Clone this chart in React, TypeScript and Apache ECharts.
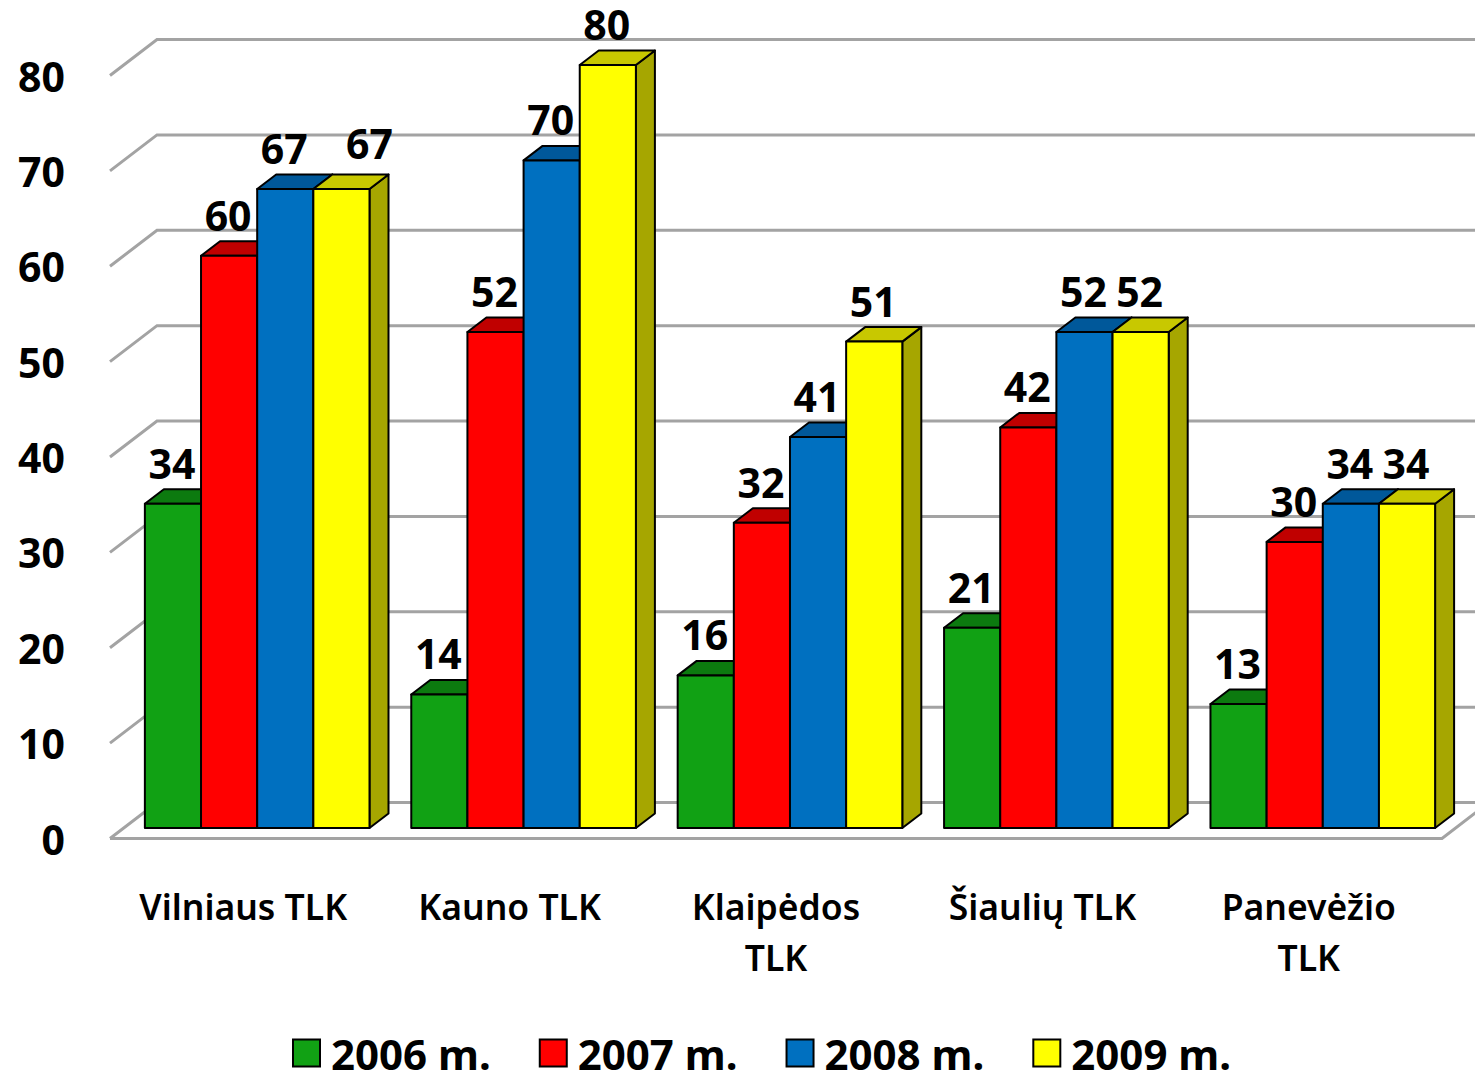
import React, { useEffect, useRef } from "react";
import * as echarts from "echarts";

const categories = ["Vilniaus TLK", "Kauno TLK", "Klaipėdos\nTLK", "Šiaulių TLK", "Panevėžio\nTLK"];
const values2006 = [34, 14, 16, 21, 13];
const values2007 = [60, 52, 32, 42, 30];
const values2008 = [67, 70, 41, 52, 34];
const values2009 = [67, 80, 51, 52, 34];
const yTicks = [0, 10, 20, 30, 40, 50, 60, 70, 80];

const FONT = '"Noto Sans"';
const WALL = "#a3a3a3";

const seriesDefs = [
  { name: "2006 m.", values: values2006, front: "#11a114", top: "#0c7a0f", side: "#0c7a0f", slot: 0 },
  { name: "2007 m.", values: values2007, front: "#ff0000", top: "#c00000", side: "#c00000", slot: 1 },
  { name: "2008 m.", values: values2008, front: "#0070c0", top: "#00589a", side: "#00589a", slot: 2 },
  { name: "2009 m.", values: values2009, front: "#ffff00", top: "#c8c800", side: "#a6a600", slot: 3 },
];

function barRenderer(def: (typeof seriesDefs)[number]) {
  return (params: any, api: any) => {
    const cat = api.value(0);
    const val = api.value(1);
    const band = api.size([1, 0])[0];
    const w = band * 0.2108;
    const floorShiftX = band * 0.0525;
    const floorShiftY = 10.5;
    const dx = 19;
    const dy = 14.5;
    const centre = api.coord([cat, 0])[0];
    const left = centre + floorShiftX - 2 * w + def.slot * w;
    const right = left + w;
    const base = api.coord([cat, 0])[1] - floorShiftY;
    const topY = api.coord([cat, val])[1] - floorShiftY;
    const stroke = { stroke: "#000", lineWidth: 2, lineJoin: "round" };
    // The one label nudged sideways in the original, next to an equal neighbour.
    const nudged = def.slot === 3 && cat === 0;
    return {
      type: "group",
      children: [
        {
          type: "polygon",
          shape: { points: [[right, base], [right + dx, base - dy], [right + dx, topY - dy], [right, topY]] },
          style: { fill: def.side, ...stroke },
        },
        {
          type: "polygon",
          shape: { points: [[left, topY], [left + dx, topY - dy], [right + dx, topY - dy], [right, topY]] },
          style: { fill: def.top, ...stroke },
        },
        {
          type: "rect",
          shape: { x: left, y: topY, width: w, height: base - topY },
          style: { fill: def.front, ...stroke },
        },
        {
          type: "text",
          z2: 100,
          x: left + w / 2 - 1 + (nudged ? 29 : 0),
          y: topY - 41 - (nudged ? 5 : 0),
          style: {
            text: String(val),
            fill: "#000",
            font: `bold 41px ${FONT}`,
            textAlign: "center",
            textVerticalAlign: "middle",
          },
        },
      ],
    };
  };
}

function wallRenderer(params: any, api: any) {
  const tick = api.value(0);
  const y = api.coord([0, tick])[1];
  const g = params.coordSys;
  const x0 = g.x;
  const x1 = g.x + g.width;
  const depthX = 47;
  const depthY = 36;
  const line = { stroke: WALL, lineWidth: 3, fill: "none" };
  const children: any[] = [
    {
      type: "polyline",
      shape: { points: [[x0, y], [x0 + depthX, y - depthY], [x1 + 40, y - depthY]] },
      style: line,
    },
  ];
  if (tick === 0) {
    children.push({
      type: "polyline",
      shape: { points: [[x0, y], [x1, y], [x1 + depthX, y - depthY]] },
      style: line,
    });
  }
  return { type: "group", children };
}

export default function App() {
  const ref = useRef<HTMLDivElement>(null);
  useEffect(() => {
    const chart = echarts.init(ref.current!, undefined, { renderer: "svg" });
    chart.setOption({
      animation: false,
      backgroundColor: "#fff",
      textStyle: { fontFamily: FONT },
      grid: { left: 110, right: 33, top: 75.5, height: 763, containLabel: false },
      xAxis: {
        type: "category",
        data: categories,
        axisLine: { show: false },
        axisTick: { show: false },
        axisLabel: {
          interval: 0,
          margin: 42,
          color: "#000",
          fontFamily: FONT,
          fontWeight: 600,
          fontSize: 35.5,
          lineHeight: 51,
          verticalAlign: "top",
        },
      },
      yAxis: {
        type: "value",
        min: 0,
        max: 80,
        interval: 10,
        axisLine: { show: false },
        axisTick: { show: false },
        splitLine: { show: false },
        axisLabel: { margin: 45, color: "#000", fontFamily: FONT, fontWeight: "bold", fontSize: 41 },
      },
      legend: {
        left: 287,
        top: 1027,
        itemWidth: 27,
        itemHeight: 27,
        itemGap: 48,
        selectedMode: false,
        textStyle: {
          color: "#000",
          fontFamily: FONT,
          fontWeight: "bold",
          fontSize: 42,
          lineHeight: 42,
          padding: [0, 0, 0, 6],
        },
        data: seriesDefs.map((d) => ({
          name: d.name,
          icon: "rect",
          itemStyle: { color: d.front, borderColor: "#000", borderWidth: 2 },
        })),
      },
      series: [
        {
          type: "custom",
          name: "walls",
          silent: true,
          clip: false,
          data: yTicks.map((t) => [t]),
          encode: { y: 0 },
          renderItem: wallRenderer,
        },
        ...seriesDefs.map((d) => ({
          type: "custom",
          name: d.name,
          clip: false,
          itemStyle: { color: d.front },
          data: d.values.map((v, i) => [i, v]),
          encode: { x: 0, y: 1 },
          renderItem: barRenderer(d),
        })),
      ],
    });
    return () => chart.dispose();
  }, []);
  return <div ref={ref} style={{ position: "absolute", left: 0, top: 0, width: 1475, height: 1075 }} />;
}
